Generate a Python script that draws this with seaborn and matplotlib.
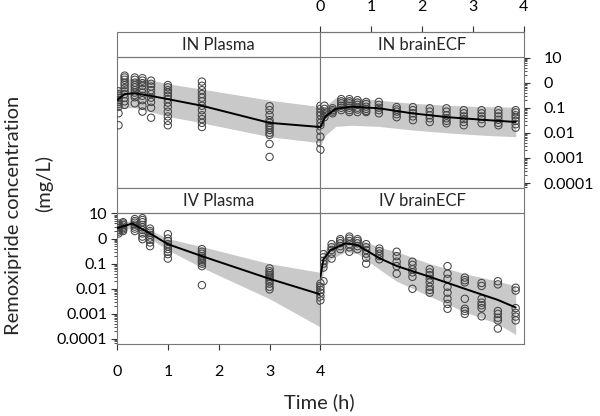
import numpy as np
import pandas as pd
import seaborn as sns
import matplotlib
matplotlib.use('Agg')
import matplotlib.pyplot as plt
from matplotlib.patches import Rectangle
from matplotlib.ticker import FixedLocator, FixedFormatter, LogLocator, NullFormatter

# observed concentrations (mg/L), one list per sampling time (h)
in_plasma_t = [0.03, 0.15, 0.35, 0.5, 0.67, 1.0, 1.67, 3.0, 4.0]
in_plasma_obs = [
    [0.45, 0.35, 0.3, 0.25, 0.2, 0.17, 0.14, 0.11, 0.06, 0.02],
    [1.9, 1.6, 1.3, 1.0, 0.8, 0.6, 0.45, 0.35, 0.25, 0.18, 0.13],
    [1.6, 1.3, 1.0, 0.8, 0.65, 0.5, 0.4, 0.32, 0.26, 0.15],
    [1.5, 1.2, 0.95, 0.75, 0.55, 0.4, 0.3, 0.2, 0.12, 0.07],
    [1.2, 0.9, 0.7, 0.5, 0.35, 0.25, 0.17, 0.1, 0.04],
    [0.8, 0.65, 0.5, 0.4, 0.3, 0.22, 0.16, 0.11, 0.07, 0.045, 0.03, 0.02],
    [1.1, 0.75, 0.5, 0.35, 0.25, 0.18, 0.12, 0.08, 0.05, 0.035, 0.025, 0.017],
    [0.115, 0.08, 0.051, 0.032, 0.025, 0.02, 0.016, 0.013, 0.01, 0.0083, 0.0036, 0.0011],
    [0.12, 0.09, 0.065, 0.05, 0.035, 0.025, 0.018, 0.012, 0.007, 0.004, 0.0023],
]
in_brain_t = [0.0, 0.08, 0.24, 0.41, 0.57, 0.73, 0.9, 1.15, 1.5, 1.82, 2.15, 2.48, 2.82, 3.17, 3.5, 3.84]
in_brain_obs = [
    [0.08, 0.06, 0.05, 0.04, 0.032, 0.025, 0.02, 0.007, 0.0021],
    [0.12, 0.09, 0.07, 0.055, 0.042],
    [0.095, 0.08, 0.07, 0.06],
    [0.22, 0.18, 0.15, 0.12, 0.1, 0.08],
    [0.22, 0.18, 0.15, 0.12, 0.1, 0.08, 0.067],
    [0.2, 0.16, 0.13, 0.1, 0.085, 0.067],
    [0.17, 0.14, 0.11, 0.09, 0.075, 0.067],
    [0.17, 0.13, 0.1, 0.08, 0.06],
    [0.106, 0.085, 0.07, 0.055, 0.042],
    [0.106, 0.08, 0.06, 0.045, 0.032],
    [0.095, 0.07, 0.05, 0.038, 0.027],
    [0.095, 0.07, 0.05, 0.038, 0.03, 0.024],
    [0.08, 0.06, 0.045, 0.035, 0.027, 0.02],
    [0.08, 0.06, 0.045, 0.035, 0.024],
    [0.08, 0.06, 0.045, 0.033, 0.025, 0.02],
    [0.08, 0.065, 0.05, 0.04, 0.03, 0.022, 0.016],
]
iv_plasma_t = [0.03, 0.12, 0.35, 0.5, 0.65, 1.0, 1.67, 3.0, 4.0]
iv_plasma_obs = [
    [4.0, 3.5, 3.0, 2.6, 2.2, 1.9, 1.6],
    [4.5, 4.0, 3.5, 3.0, 2.6, 2.3, 2.0],
    [6.0, 5.0, 4.3, 3.6, 3.0, 2.5, 2.0],
    [6.5, 5.5, 4.5, 3.5, 2.8, 2.2, 1.6, 1.2, 0.95],
    [2.5, 2.0, 1.7, 1.4, 1.1, 0.9, 0.7, 0.5],
    [1.5, 1.0, 0.8, 0.6, 0.48, 0.38, 0.3, 0.24, 0.16],
    [0.38, 0.3, 0.25, 0.2, 0.17, 0.14, 0.12, 0.1, 0.08, 0.014],
    [0.065, 0.05, 0.042, 0.035, 0.03, 0.025, 0.02, 0.016, 0.012, 0.0095],
    [0.016, 0.013, 0.011, 0.009, 0.0075, 0.006, 0.0045, 0.0033],
]
iv_brain_t = [0.0, 0.06, 0.22, 0.39, 0.57, 0.73, 0.9, 1.16, 1.5, 1.81, 2.15, 2.5, 2.84, 3.17, 3.49, 3.84]
iv_brain_obs = [
    [0.017, 0.012, 0.009, 0.007, 0.005, 0.0035],
    [0.24, 0.18, 0.13, 0.1, 0.07, 0.02],
    [0.6, 0.45, 0.35, 0.25, 0.16],
    [0.95, 0.8, 0.65, 0.5, 0.38],
    [1.2, 1.0, 0.8, 0.6, 0.45, 0.3],
    [0.95, 0.8, 0.65, 0.5, 0.38],
    [0.6, 0.45, 0.35, 0.25, 0.17, 0.1],
    [0.4, 0.32, 0.25, 0.2, 0.15],
    [0.3, 0.2, 0.12, 0.08, 0.04],
    [0.12, 0.09, 0.06, 0.045, 0.03, 0.01],
    [0.06, 0.045, 0.035, 0.025, 0.018, 0.012, 0.009, 0.007],
    [0.08, 0.04, 0.025, 0.012, 0.007, 0.004, 0.0025, 0.0016],
    [0.028, 0.022, 0.018, 0.004, 0.0016, 0.0013, 0.001],
    [0.017, 0.013, 0.004, 0.0028, 0.0022, 0.0017, 0.0008],
    [0.02, 0.015, 0.0013, 0.001, 0.0007, 0.00055, 0.00026],
    [0.011, 0.0085, 0.0017, 0.0011, 0.00078, 0.00055],
]

# model prediction: median and prediction band
in_plasma_pt = [0.0, 0.15, 0.35, 0.65, 1.0, 1.67, 3.0, 4.0]
in_plasma_med = [0.2, 0.35, 0.38, 0.3, 0.22, 0.12, 0.025, 0.017]
in_plasma_lo = [0.08, 0.1, 0.1, 0.07, 0.045, 0.025, 0.007, 0.004]
in_plasma_hi = [0.5, 1.3, 1.5, 1.3, 0.9, 0.55, 0.2, 0.11]

in_brain_pt = [0.0, 0.1, 0.3, 0.6, 1.15, 1.8, 2.5, 3.2, 3.84]
in_brain_med = [0.017, 0.045, 0.09, 0.11, 0.095, 0.06, 0.042, 0.033, 0.027]
in_brain_lo = [0.003, 0.008, 0.018, 0.02, 0.018, 0.013, 0.01, 0.008, 0.007]
in_brain_hi = [0.05, 0.12, 0.25, 0.26, 0.2, 0.15, 0.125, 0.11, 0.106]

iv_plasma_pt = [0.0, 0.3, 0.65, 1.0, 1.67, 3.0, 4.0]
iv_plasma_med = [2.6, 4.0, 1.6, 0.6, 0.2, 0.025, 0.006]
iv_plasma_lo = [1.8, 2.8, 1.0, 0.35, 0.07, 0.004, 0.0003]
iv_plasma_hi = [3.5, 5.5, 2.2, 1.0, 0.48, 0.1, 0.045]

iv_brain_pt = [0.0, 0.06, 0.2, 0.5, 0.73, 1.16, 1.5, 2.15, 2.84, 3.49, 3.84]
iv_brain_med = [0.03, 0.15, 0.35, 0.65, 0.55, 0.166, 0.081, 0.03, 0.01, 0.0036, 0.0018]
iv_brain_lo = [0.01, 0.05, 0.15, 0.3, 0.25, 0.06, 0.02, 0.005, 0.0012, 0.0004, 0.00015]
iv_brain_hi = [0.06, 0.3, 0.7, 1.1, 1.0, 0.45, 0.3, 0.1, 0.04, 0.02, 0.013]

y_ticks = [0.0001, 0.001, 0.01, 0.1, 1, 10]
y_labels = ['0.0001', '0.001', '0.01', '0.1', '0', '10']

panels = [
    ('IN', 'Plasma', in_plasma_t, in_plasma_obs, in_plasma_pt, in_plasma_med, in_plasma_lo, in_plasma_hi),
    ('IN', 'brainECF', in_brain_t, in_brain_obs, in_brain_pt, in_brain_med, in_brain_lo, in_brain_hi),
    ('IV', 'Plasma', iv_plasma_t, iv_plasma_obs, iv_plasma_pt, iv_plasma_med, iv_plasma_lo, iv_plasma_hi),
    ('IV', 'brainECF', iv_brain_t, iv_brain_obs, iv_brain_pt, iv_brain_med, iv_brain_lo, iv_brain_hi),
]

rows = []
pred_rows = []
for route, matrix, ts, obs, pt, med, lo, hi in panels:
    for t, vals in zip(ts, obs):
        for v in vals:
            rows.append({'route': route, 'matrix': matrix, 'time': t, 'conc': v})
    for t, m, l, h in zip(pt, med, lo, hi):
        pred_rows.append({'route': route, 'matrix': matrix, 'time': t,
                          'med': m, 'lo': l, 'hi': h})
obs_df = pd.DataFrame(rows)
pred_df = pd.DataFrame(pred_rows)

sns.set_style('white')
plt.rcParams['font.family'] = ['Lato', 'DejaVu Sans']

g = sns.FacetGrid(obs_df, row='route', col='matrix', row_order=['IN', 'IV'],
                  col_order=['Plasma', 'brainECF'], despine=False,
                  height=2, aspect=1.5)
g.set(yscale='log')
g.map_dataframe(sns.scatterplot, x='time', y='conc', marker='o', s=28,
                color='#454545', facecolors='none', edgecolor='#454545',
                linewidth=0.75, zorder=3)

for (route, matrix), ax in g.axes_dict.items():
    p = pred_df[(pred_df['route'] == route) & (pred_df['matrix'] == matrix)]
    ax.fill_between(p['time'], p['lo'], p['hi'], color='#c9c9c9', lw=0, zorder=1)
    sns.lineplot(data=p, x='time', y='med', ax=ax, color='black', lw=1.4, zorder=4)
    ax.add_patch(Rectangle((0, 1), 1, 0.19, transform=ax.transAxes, clip_on=False,
                           fc='white', ec='#777777', lw=0.8))
    ax.text(0.5, 1.095, f'{route} {matrix}', transform=ax.transAxes,
            ha='center', va='center', fontsize=12)

g.set_titles('')
g.set_axis_labels('', '')
g.set(xlim=(0, 4), ylim=(6.3e-5, 10.5))

for ax in g.axes.flat:
    ax.yaxis.set_major_locator(FixedLocator(y_ticks))
    ax.yaxis.set_major_formatter(FixedFormatter(y_labels))
    ax.yaxis.set_minor_locator(LogLocator(subs=np.arange(2, 10), numticks=20))
    ax.yaxis.set_minor_formatter(NullFormatter())
    ax.set_xticks([0, 1, 2, 3, 4])
    ax.tick_params(which='both', left=False, right=False, top=False, bottom=False,
                   labelleft=False, labelright=False, labeltop=False,
                   labelbottom=False, direction='out', colors='#333333',
                   labelcolor='black', labelsize=11.5)
    ax.tick_params(which='major', length=4, width=0.8)
    ax.tick_params(which='minor', length=2.2, width=0.6)
    for sp in ax.spines.values():
        sp.set_color('#777777')
        sp.set_linewidth(0.8)

ax = g.axes_dict[('IN', 'brainECF')]
ax.spines['top'].set_position(('axes', 1.19))
ax.tick_params(axis='x', which='major', top=True, labeltop=True, pad=9)
ax.tick_params(axis='y', which='both', right=True, labelright=True)
ax.tick_params(axis='y', which='major', pad=10)

ax = g.axes_dict[('IV', 'Plasma')]
ax.tick_params(axis='x', which='major', bottom=True, labelbottom=True, pad=11)
ax.tick_params(axis='y', which='both', left=True, labelleft=True)
ax.tick_params(axis='y', which='major', pad=3)

fig = g.figure
fig.set_size_inches(6, 4.16)
fig.subplots_adjust(left=0.195, right=0.873, bottom=0.173, top=0.863,
                    wspace=0, hspace=0.19)
fig.text(0.022, 0.483, 'Remoxipride concentration', rotation=90,
         ha='center', va='center', fontsize=14.5)
fig.text(0.073, 0.56, '(mg/L)', rotation=90, ha='center', va='center', fontsize=14.5)
fig.text(0.533, 0.034, 'Time (h)', ha='center', va='center', fontsize=14.5)

fig.savefig('out.png', dpi=100)
